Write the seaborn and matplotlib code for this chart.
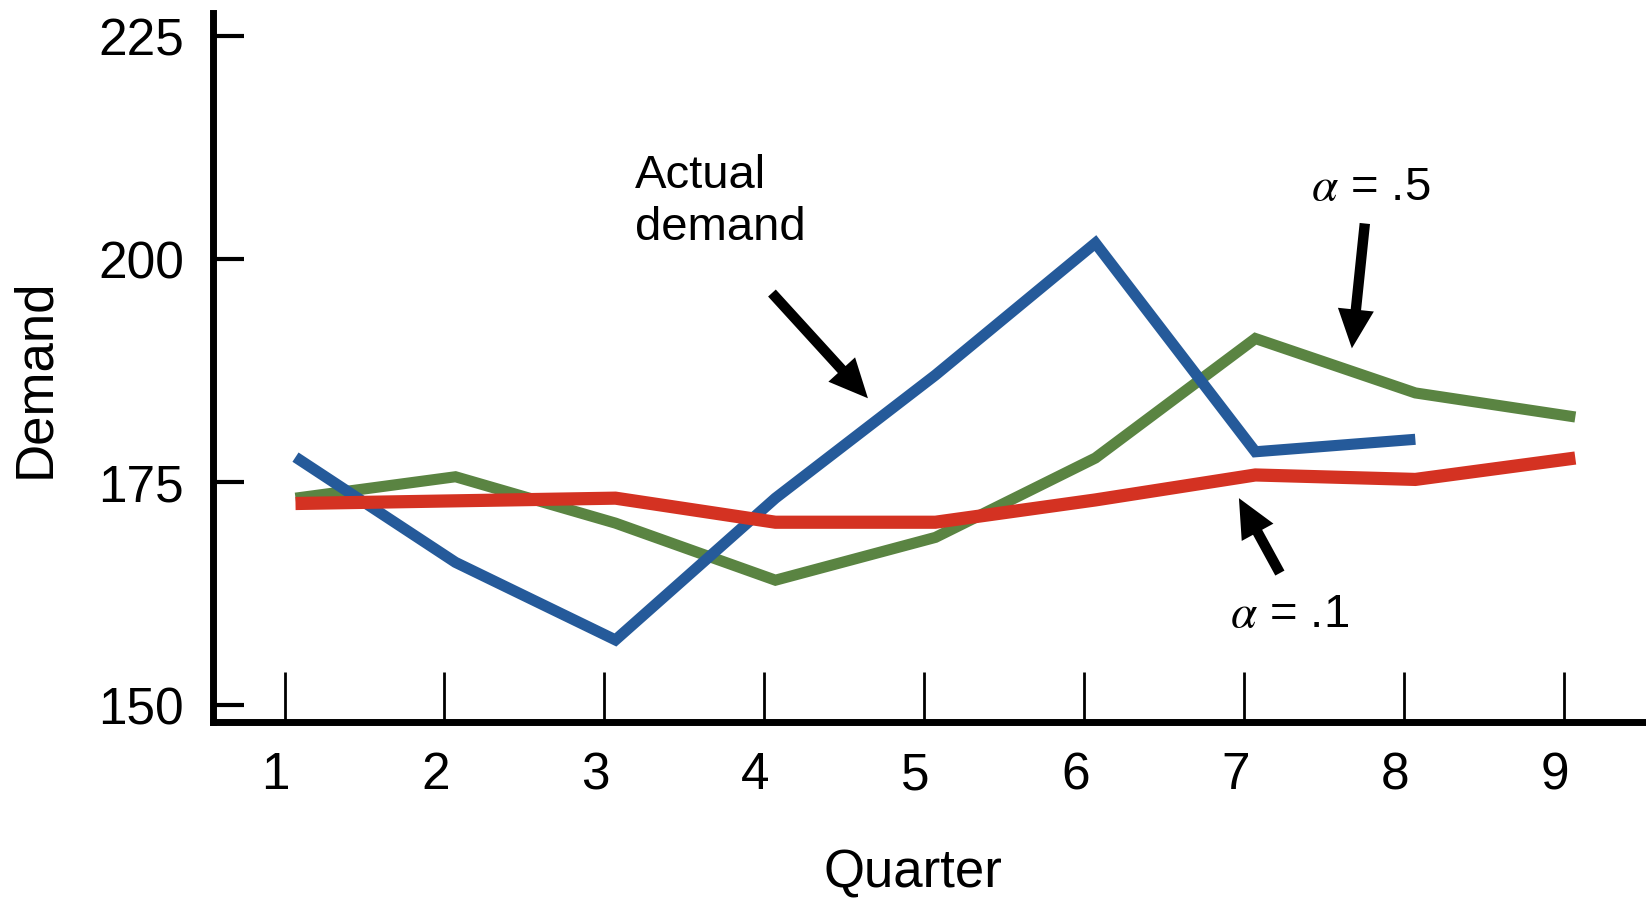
import matplotlib
matplotlib.use("Agg")
import matplotlib.pyplot as plt
import matplotlib.transforms as mtransforms
import pandas as pd
import seaborn as sns

# Chart data
quarters = [1, 2, 3, 4, 5, 6, 7, 8, 9]
actual_demand = [177.8, 166.0, 157.3, 173.2, 187.0, 201.8, 178.4, 179.8]
forecast_a01 = [172.6, 172.9, 173.2, 170.5, 170.5, 173.0, 175.8, 175.3, 177.7]
forecast_a05 = [173.2, 175.6, 170.4, 164.0, 168.8, 177.7, 191.1, 185.0, 182.3]
y_ticks = [150, 175, 200, 225]

BLUE = "#255a9a"
GREEN = "#5a8442"
RED = "#d43222"

sns.set_style("white")
plt.rcParams["font.family"] = ["Liberation Sans", "DejaVu Sans"]
plt.rcParams["mathtext.fontset"] = "stix"
plt.rcParams["text.color"] = "black"
plt.rcParams["axes.labelcolor"] = "black"

fig = plt.figure(figsize=(16.46, 8.98), dpi=100)
ax = fig.add_axes([0.1294, 0.196, 0.8686, 0.7895])

# lines sit a few pixels right of the tick marks in the original
shift = mtransforms.ScaledTranslation(11 / 100, 0, fig.dpi_scale_trans)
trans = ax.transData + shift

df_a05 = pd.DataFrame({"quarter": quarters, "demand": forecast_a05})
df_act = pd.DataFrame({"quarter": quarters[:len(actual_demand)], "demand": actual_demand})
df_a01 = pd.DataFrame({"quarter": quarters, "demand": forecast_a01})

sns.lineplot(data=df_a05, x="quarter", y="demand", ax=ax, color=GREEN,
             linewidth=8, solid_capstyle="butt", solid_joinstyle="miter",
             transform=trans, zorder=2)
sns.lineplot(data=df_act, x="quarter", y="demand", ax=ax, color=BLUE,
             linewidth=8, solid_capstyle="butt", solid_joinstyle="miter",
             transform=trans, zorder=3)
sns.lineplot(data=df_a01, x="quarter", y="demand", ax=ax, color=RED,
             linewidth=9.5, solid_capstyle="butt", solid_joinstyle="miter",
             transform=trans, zorder=4)

ax.set_xlim(0.553, 9.49)
ax.set_ylim(148.1, 227.6)
ax.set_xticks(quarters)
ax.set_yticks(y_ticks)

for side in ["top", "right"]:
    ax.spines[side].set_visible(False)
for side in ["left", "bottom"]:
    ax.spines[side].set_linewidth(5)
    ax.spines[side].set_color("black")

ax.tick_params(axis="y", left=True, direction="in", length=22, width=3,
               pad=21, labelsize=37, colors="black")
ax.tick_params(axis="x", bottom=True, direction="in", length=36, width=2,
               pad=21, labelsize=37, colors="black")

# quarter numbers sit slightly left of their tick marks
label_shift = mtransforms.ScaledTranslation(-9 / 100, 0, fig.dpi_scale_trans)
for lab in ax.get_xticklabels():
    lab.set_transform(lab.get_transform() + label_shift)

ax.set_xlabel("Quarter", fontsize=38)
ax.set_ylabel("Demand", fontsize=38)
ax.xaxis.set_label_coords(0.4895, -0.178)
ax.yaxis.set_label_coords(-0.107, 0.485)

# annotations
ax.text(3.191, 211.8, "Actual\ndemand", fontsize=34, ha="left", va="top",
        linespacing=1.25)
ax.text(7.79, 206.6, r"$\alpha$ = .5", fontsize=34, ha="center", va="baseline")
ax.text(7.28, 158.74, r"$\alpha$ = .1", fontsize=34, ha="center", va="baseline")

arrow = dict(arrowstyle="simple,head_length=28,head_width=26,tail_width=7.5",
             fc="black", ec="none", shrinkA=0, shrinkB=0, mutation_scale=1)
ax.annotate("", xy=(4.647, 184.4), xytext=(4.047, 196.2), arrowprops=arrow)
ax.annotate("", xy=(7.672, 190.0), xytext=(7.753, 204.0), arrowprops=arrow)
ax.annotate("", xy=(6.966, 173.2), xytext=(7.222, 164.8), arrowprops=arrow)

fig.savefig("out.png", dpi=100)
